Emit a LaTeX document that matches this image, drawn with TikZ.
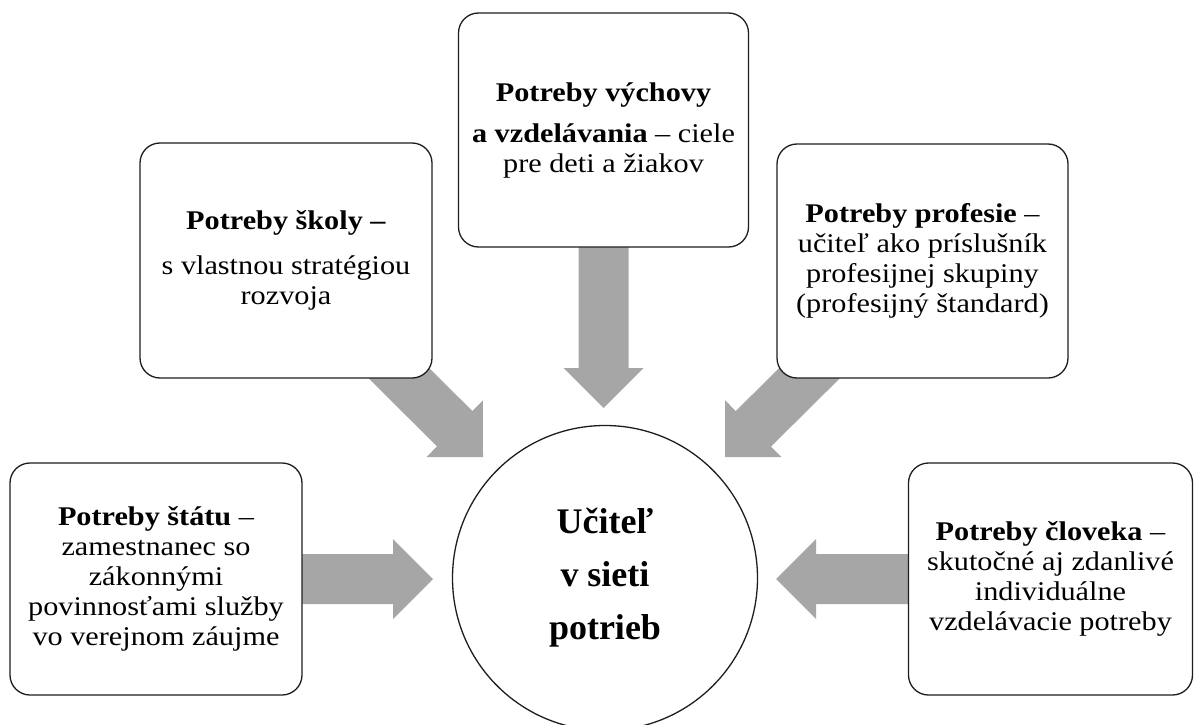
\documentclass[tikz,border=0pt]{standalone}
\usepackage{fontspec}
\setmainfont{Liberation Serif}
\newfontfamily\boxfont[FakeStretch=1.12]{Liberation Serif}
\usetikzlibrary{calc,backgrounds}
\definecolor{arrowgray}{RGB}{166,166,166}
\definecolor{edgecol}{RGB}{30,30,30}
% block arrow from #1 (start, hidden under a box) to tip #2
\newcommand\blockarrow[2]{%
  \coordinate (ba-b) at ($(#2)!40pt!(#1)$);
  \fill[arrowgray]
    ($(#1)!25pt!90:(#2)$) -- ($(ba-b)!25pt!-90:(#1)$) -- ($(ba-b)!40pt!-90:(#1)$)
    -- (#2) --
    ($(ba-b)!40pt!90:(#1)$) -- ($(ba-b)!25pt!90:(#1)$) -- ($(#1)!25pt!-90:(#2)$) -- cycle;
}
\tikzset{
  needbox/.style={draw=edgecol, line width=1.3pt, fill=white, rounded corners=20pt,
    align=center, inner sep=0pt, font=\boxfont\fontsize{27}{30}\selectfont},
  hubcircle/.style={circle, draw=edgecol, line width=1.3pt, fill=white,
    minimum size=305pt, inner sep=0pt, align=center,
    font=\bfseries\fontsize{36}{53}\selectfont}
}
\begin{document}
\begin{tikzpicture}[x=1pt,y=-1pt]
\useasboundingbox (0,0) rectangle (1194,725);

\node[hubcircle] (hub) at (605,578) {Učiteľ\\v sieti\\potrieb};

\node[needbox, minimum width=290pt, minimum height=234pt] (vychovy) at (603.5,130)
  {\textbf{Potreby výchovy}\\[11pt]\textbf{a vzdelávania} – ciele\\pre deti a žiakov};
\node[needbox, minimum width=292pt, minimum height=235pt] (skoly) at (286,260.5)
  {\textbf{Potreby školy –}\\[15pt]s vlastnou stratégiou\\rozvoja};
\node[needbox, minimum width=291pt, minimum height=234pt] (profese) at (922.5,261)
  {\textbf{Potreby profesie} –\\učiteľ ako príslušník\\profesijnej skupiny\\(profesijný štandard)};
\node[needbox, minimum width=292pt, minimum height=232pt] (statu) at (156,579)
  {\textbf{Potreby štátu} –\\zamestnanec so\\zákonnými\\povinnosťami služby\\vo verejnom záujme};
\node[needbox, minimum width=284pt, minimum height=232pt] (cloveka) at (1050.5,579)
  {\textbf{Potreby človeka} –\\skutočné aj zdanlivé\\individuálne\\vzdelávacie potreby};

\coordinate (tv) at (603.5,408);
\coordinate (ts) at (483,457);
\coordinate (tp) at (725,457);
\coordinate (tl) at (433,579);
\coordinate (tr) at (776,579);

\begin{pgfonlayer}{background}
  \fill[white] (0,0) rectangle (1194,725);
  \blockarrow{vychovy.center}{tv}
  \blockarrow{skoly.center}{ts}
  \blockarrow{profese.center}{tp}
  \blockarrow{statu.center}{tl}
  \blockarrow{cloveka.center}{tr}
\end{pgfonlayer}
\end{tikzpicture}
\end{document}
